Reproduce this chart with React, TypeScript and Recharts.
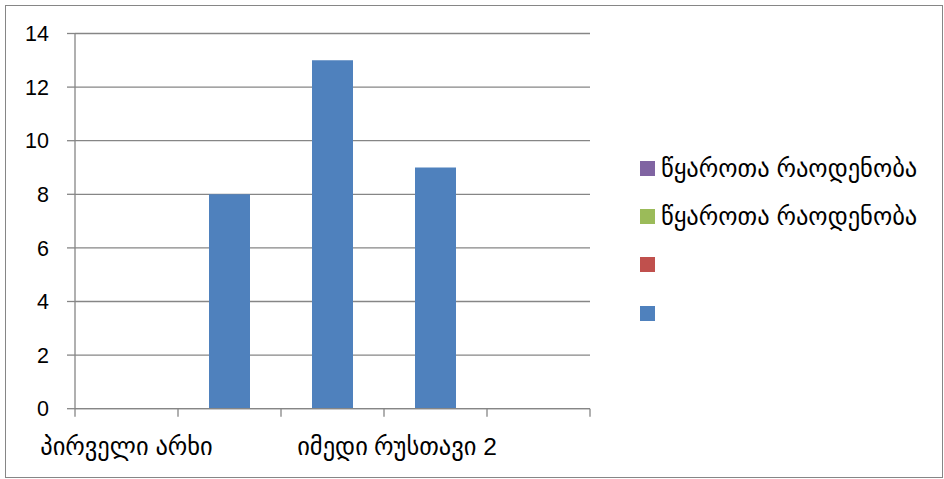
import React from 'react';
import { BarChart, Bar, XAxis, YAxis, CartesianGrid } from 'recharts';

// values
const categories = ['პირველი არხი', '', 'იმედი', 'რუსთავი 2', ''];
const sourceCounts: (number | null)[] = [null, 8, 13, 9, null];
const yTicks = [0, 2, 4, 6, 8, 10, 12, 14];
const legendNames = ['წყაროთა რაოდენობა', 'წყაროთა რაოდენობა', '', ''];
const legendColors = ['#8064A2', '#9BBB59', '#C0504D', '#4F81BD'];

const data = categories.map((name, i) => ({ name, value: sourceCounts[i] }));

const W = 944;
const H = 479;
const axisColor = '#868686';
const textColor = '#000000';
const font = "'Liberation Sans', 'DejaVu Sans', sans-serif";
const PLOT_W = 515;

const CategoryTick = (props: any) => {
  const { x, y, payload, index, visibleTicksCount } = props;
  const half = payload?.offset ?? PLOT_W / categories.length / 2;
  const i = payload?.index ?? index;
  return (
    <g>
      <line x1={x - half} x2={x - half} y1={y} y2={y + 8} stroke={axisColor} strokeWidth={1.3} />
      {index === visibleTicksCount - 1 && (
        <line x1={x + half} x2={x + half} y1={y} y2={y + 8} stroke={axisColor} strokeWidth={1.3} />
      )}
      <text x={x} y={y + 46} textAnchor="middle" fill={textColor} fontSize={24.5} fontFamily={font}>
        {categories[i]}
      </text>
    </g>
  );
};

export default function App() {
  return (
    <div style={{ position: 'absolute', left: 0, top: 0, width: W, height: H, background: '#fff' }}>
      <div
        style={{
          position: 'absolute',
          left: 5,
          top: 5,
          width: 936,
          height: 471,
          border: `1.5px solid ${axisColor}`,
        }}
      />
      <BarChart
        width={W}
        height={H}
        data={data}
        margin={{ top: 33.5, right: 354, left: 15, bottom: 30 }}
        style={{ position: 'absolute', left: 0, top: 0 }}
      >
        <CartesianGrid vertical={false} stroke={axisColor} strokeWidth={1.3} />
        <XAxis
          dataKey="name"
          interval={0}
          height={40.3}
          tickSize={0}
          tickMargin={0}
          tickLine={false}
          axisLine={{ stroke: axisColor, strokeWidth: 1.3 }}
          tick={<CategoryTick />}
        />
        <YAxis
          width={60}
          domain={[0, 14]}
          ticks={yTicks}
          interval={0}
          tickSize={8}
          tickMargin={18}
          tickLine={{ stroke: axisColor, strokeWidth: 1.3 }}
          axisLine={{ stroke: axisColor, strokeWidth: 1.3 }}
          tick={{ fill: textColor, fontSize: 21.5, fontFamily: font }}
        />
        <Bar dataKey="value" fill={legendColors[3]} barSize={41} isAnimationActive={false} />
      </BarChart>
      <div style={{ position: 'absolute', left: 640, top: 144, fontFamily: font }}>
        {legendNames.map((name, i) => (
          <div key={i} style={{ display: 'flex', alignItems: 'center', height: 48.3 }}>
            <div style={{ width: 15, height: 15, background: legendColors[i] }} />
            <span style={{ marginLeft: 6, fontSize: 24.5, color: textColor, whiteSpace: 'nowrap' }}>{name}</span>
          </div>
        ))}
      </div>
    </div>
  );
}
